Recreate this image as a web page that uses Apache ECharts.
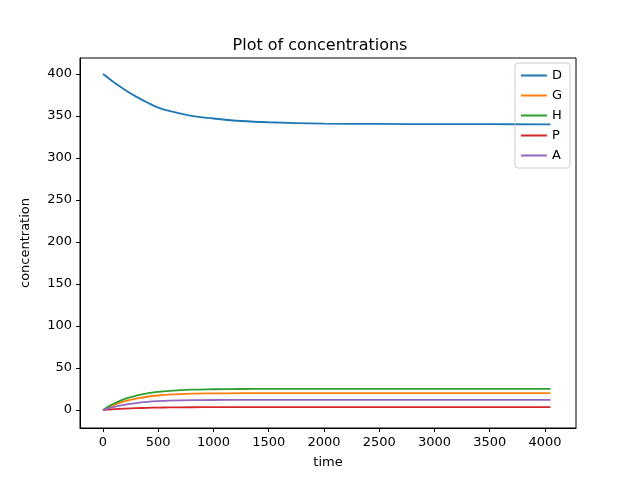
<!DOCTYPE html><html><head><meta charset="utf-8"><script src="https://cdn.jsdelivr.net/npm/echarts@6/dist/echarts.min.js"></script></head><body style="margin:0"><div id="c" style="width:640px;height:480px"></div><script>
const time=[0,50,100,200,300,400,500,600,800,1000,1250,1500,2000,2500,3000,3500,4050];
const D=[400,395,390,381,373,366,360,356,350,347,344,342.5,341,340.5,340.3,340.2,340.1];
const G=[0,3.3,6.2,10.5,13.6,15.8,17.3,18.3,19.4,19.8,20,20.1,20.1,20.1,20.1,20.1,20.1];
const H=[0,4.2,7.8,13.2,17,19.8,21.6,22.8,24.2,24.7,25,25.1,25.1,25.1,25.1,25.1,25.1];
const P=[0,0.55,1,1.7,2.2,2.6,2.9,3.1,3.3,3.4,3.4,3.4,3.4,3.4,3.4,3.4,3.4];
const A=[0,2,3.8,6.4,8.3,9.6,10.5,11.1,11.7,11.9,12,12,12,12,12,12,12];
const xTicks=[0,500,1000,1500,2000,2500,3000,3500,4000];
const yTicks=[0,50,100,150,200,250,300,350,400];
const names=['D','G','H','P','A'],vals=[D,G,H,P,A];
const colors=['#1f77b4','#ff7f0e','#2ca02c','#d62728','#9467bd'];
const f='DejaVu Sans';
const ch=echarts.init(document.getElementById('c'));
ch.setOption({animation:false,color:colors,textStyle:{fontFamily:f},
title:{text:'Plot of concentrations',left:'center',top:33,textStyle:{fontFamily:f,fontSize:16,fontWeight:'normal',color:'#000'}},
legend:{orient:'vertical',right:70,top:63,itemWidth:26,itemHeight:2,itemGap:7,borderColor:'#ccc',borderWidth:1,borderRadius:3,padding:[6,8,6,6],textStyle:{fontFamily:f,fontSize:13,color:'#000',width:22},data:names.map(n=>({name:n,icon:'rect'}))},
grid:{left:80,right:64,top:58,bottom:52},
xAxis:{type:'value',min:-208,max:4281,name:'time',nameLocation:'middle',nameGap:28,nameTextStyle:{fontSize:13,color:'#000'},splitLine:{show:false},axisLine:{onZero:false,lineStyle:{color:'#000'}},axisTick:{customValues:xTicks,length:4,lineStyle:{color:'#000'}},axisLabel:{customValues:xTicks,color:'#000',fontSize:13,formatter:v=>String(v)}},
yAxis:{type:'value',min:-21.4,max:419,name:'concentration',nameLocation:'middle',nameGap:48,nameTextStyle:{fontSize:13,color:'#000'},splitLine:{show:false},axisLine:{show:true,onZero:false,lineStyle:{color:'#000'}},axisTick:{show:true,length:4,customValues:yTicks,lineStyle:{color:'#000'}},axisLabel:{customValues:yTicks,color:'#000',fontSize:13}},
series:names.map((n,i)=>({name:n,type:'line',smooth:0.4,showSymbol:false,lineStyle:{width:1.8},data:time.map((t,j)=>[t,vals[i][j]])})),
graphic:[{type:'rect',shape:{x:80,y:58,width:496,height:370},style:{fill:'none',stroke:'#000',lineWidth:1},silent:true}]
});
</script></body></html>
